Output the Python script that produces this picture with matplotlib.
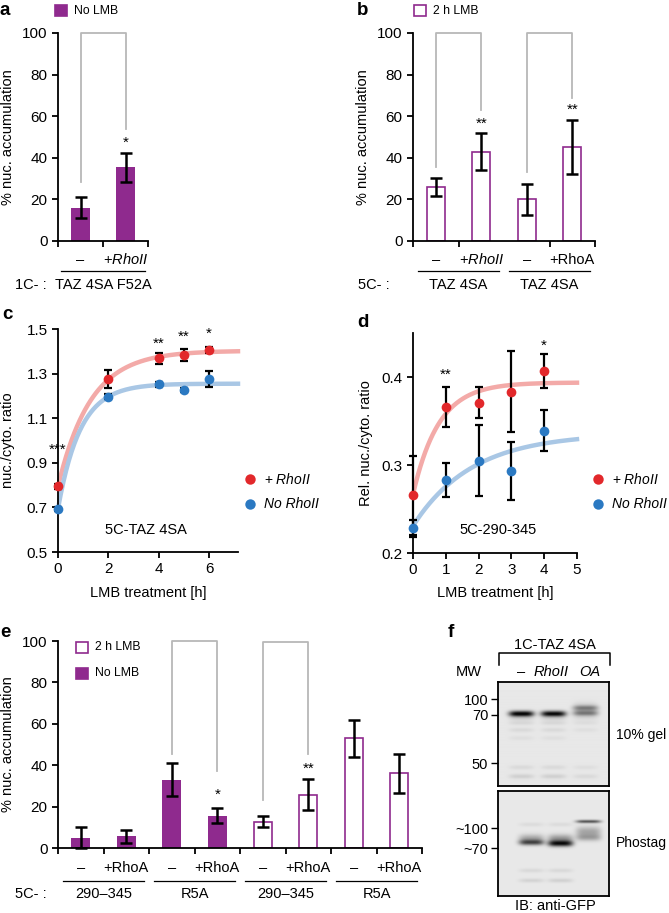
import numpy as np
import matplotlib
matplotlib.use("Agg")
import matplotlib.pyplot as plt
from matplotlib.patches import Rectangle
from matplotlib.lines import Line2D
from matplotlib.transforms import blended_transform_factory

plt.rcParams['font.family'] = ['Liberation Sans', 'DejaVu Sans']
plt.rcParams['mathtext.fontset'] = 'custom'
plt.rcParams['mathtext.rm'] = 'Liberation Sans'
plt.rcParams['mathtext.it'] = 'Liberation Sans:italic'
plt.rcParams['font.size'] = 10.5

W, H = 669, 913
PURPLE = '#8f2a8e'
RED = '#e2282b'
BLUE = '#2b79c2'
RED_FIT = '#f3aaa8'
BLUE_FIT = '#a9c7e5'
GREY = '#b8b8b8'
RHOII = '+$\\mathit{RhoII}$'

# ===== DATA =====
# a
a_vals = [16, 35.5]
a_err = [5, 7]
a_labels = ['–', RHOII]
# b
b_vals = [26, 43, 20, 45]
b_err = [4.5, 9, 7.5, 13]
b_labels = ['–', RHOII, '–', '+RhoA']
b_groups = ['TAZ 4SA', 'TAZ 4SA']
# c
c_t = [0, 2, 4, 5, 6]
c_red = [0.794, 1.276, 1.369, 1.384, 1.406]
c_red_err = [0.01, 0.04, 0.025, 0.027, 0.012]
c_blue = [0.694, 1.197, 1.252, 1.227, 1.276]
c_blue_err = [0.01, 0.01, 0.01, 0.01, 0.037]
c_stars = ['***', '', '**', '**', '*']
# d
d_t = [0, 1, 2, 3, 4]
d_red = [0.2655, 0.366, 0.371, 0.383, 0.407]
d_red_err = [0.045, 0.023, 0.018, 0.046, 0.019]
d_blue = [0.228, 0.283, 0.305, 0.293, 0.339]
d_blue_err = [0.010, 0.019, 0.04, 0.033, 0.023]
d_stars = ['', '**', '', '', '*']
# e
e_vals = [5, 5.6, 32.9, 15.7, 12.8, 25.7, 53, 36]
e_err = [5.2, 3, 8, 3.5, 2.5, 7.5, 9, 9.5]
e_cond = ['No LMB'] * 4 + ['2 h LMB'] * 4
e_labels = ['–', '+RhoA'] * 4
e_groups = ['290–345', 'R5A', '290–345', 'R5A']
# f : bands (lane, row, darkness, sigma)
f_lanes = ['–', 'RhoII', 'OA']
f_top_bands = [
    (0, 32, 0.95, 2.0), (1, 32, 0.92, 2.0),
    (2, 29, 0.25, 4.5), (2, 26, 0.25, 1.6), (2, 31.5, 0.25, 1.6),
    (0, 37, 0.06, 1.5), (1, 37, 0.06, 1.5),
    (0, 41, 0.07, 1.5), (1, 41, 0.07, 1.5), (2, 41, 0.04, 1.5),
    (0, 48, 0.06, 1.5), (1, 48, 0.06, 1.5), (2, 48, 0.04, 1.5),
    (0, 56, 0.04, 1.5), (1, 56, 0.04, 1.5),
    (0, 85, 0.06, 1.5), (1, 85, 0.06, 1.5), (2, 85, 0.04, 1.5),
    (0, 94, 0.10, 1.6), (1, 94, 0.10, 1.6), (2, 94, 0.06, 1.6),
]
f_bot_bands = [
    (0, 47, 0.25, 3.0), (0, 51, 0.55, 2.0),
    (1, 47, 0.30, 3.0), (1, 52, 0.80, 2.2),
    (2, 30, 0.55, 1.2), (2, 40, 0.25, 3.5), (2, 46, 0.25, 2.5),
    (0, 33, 0.05, 1.5), (1, 33, 0.05, 1.5),
    (0, 79, 0.06, 1.5), (1, 79, 0.06, 1.5),
    (0, 89, 0.08, 1.5), (1, 89, 0.09, 1.5),
]
f_top_mw = ['100', '70', '50']
f_top_mw_rows = [17, 32.5, 81]
f_bot_mw = ['~100', '~70']
f_bot_mw_rows = [37, 57]


def fx(x):
    return x / W


def fy(y):
    return 1 - y / H


fig = plt.figure(figsize=(W / 100, H / 100), dpi=100)


def add_axes(l, t, r, b):
    return fig.add_axes([fx(l), fy(b), (r - l) / W, (b - t) / H])


def style(ax):
    for s in ['top', 'right']:
        ax.spines[s].set_visible(False)
    for s in ['left', 'bottom']:
        ax.spines[s].set_linewidth(1.3)
    ax.tick_params(direction='out', length=4.5, width=1.3, pad=3, labelsize=11)


def errbars(ax, x, y, e, cap=4, lw=1.8, z=3):
    cont = ax.errorbar(x, y, yerr=e, fmt='none', ecolor='k', elinewidth=lw,
                       capsize=cap, capthick=lw, zorder=z)
    for art in list(cont.lines[1]) + list(cont.lines[2]):
        art.set_clip_on(False)


def bracket(ax, x1, x2, y1, y2, top):
    ax.plot([x1, x1, x2, x2], [y1, top, top, y2], color=GREY, lw=1.3,
            clip_on=False, zorder=1)


def cat_labels(ax, xs, labels, ypx):
    tr = blended_transform_factory(ax.transData, fig.transFigure)
    for x, lab in zip(xs, labels):
        ax.text(x, fy(ypx), lab, transform=tr, ha='center', va='center', fontsize=10.5)


def group_labels(ax, centers, labels, ypx_line, ypx_text, half=0.9):
    tr = blended_transform_factory(ax.transData, fig.transFigure)
    for c, lab in zip(centers, labels):
        ax.plot([c - half, c + half], [fy(ypx_line)] * 2, transform=tr, color='k',
                lw=0.9, clip_on=False)
        ax.text(c, fy(ypx_text), lab, transform=tr, ha='center', va='center', fontsize=10.5)


def legend_square(xpx, ypx, filled, label):
    fig.add_artist(Rectangle((fx(xpx), fy(ypx + 5.5)), 12 / W, 11 / H,
                             transform=fig.transFigure,
                             facecolor=PURPLE if filled else 'white',
                             edgecolor=PURPLE, lw=1.2))
    fig.text(fx(xpx + 19), fy(ypx), label, ha='left', va='center', fontsize=8.8)


def fit_exp(t, y):
    t = np.asarray(t, float)
    y = np.asarray(y, float)
    best = None
    for k in np.linspace(0.05, 5, 1000):
        A = np.column_stack([np.ones_like(t), np.exp(-k * t)])
        coef = np.linalg.lstsq(A, y, rcond=None)[0]
        sse = np.sum((A @ coef - y) ** 2)
        if best is None or sse < best[0]:
            best = (sse, k, coef)
    _, k, (p, s) = best
    return lambda tt: p + s * np.exp(-k * tt)


# ===== a =====
ax = add_axes(58, 33, 148, 241)
style(ax)
xa = np.arange(len(a_vals)) + 0.5
ax.bar(xa, a_vals, width=0.44, color=PURPLE, zorder=2)
errbars(ax, xa, a_vals, a_err)
ax.set_xlim(0, 2)
ax.set_ylim(0, 100)
ax.set_xticks([0, 1, 2])
ax.set_xticklabels([])
ax.set_yticks(range(0, 101, 20))
bracket(ax, xa[0], xa[1], 28.6, 54, 100)
ax.text(xa[1], 47, '*', ha='center', va='center', fontsize=11)
cat_labels(ax, xa, a_labels, 260)
group_labels(ax, [1.0], ['TAZ 4SA F52A'], 271, 285, half=0.93)
fig.text(fx(15), fy(285), '1C- :', ha='left', va='center', fontsize=10.5)
fig.text(fx(8), fy(137), '% nuc. accumulation', rotation=90, ha='center', va='center')
legend_square(55, 11, True, 'No LMB')
fig.text(fx(0), fy(15), 'a', fontweight='bold', fontsize=13.5, va='baseline')

# ===== b =====
ax = add_axes(413, 33, 595, 241)
style(ax)
xb = np.arange(len(b_vals)) + 0.5
ax.bar(xb, b_vals, width=0.4, facecolor='white', edgecolor=PURPLE, lw=1.2, zorder=2)
errbars(ax, xb, b_vals, b_err)
ax.set_xlim(0, 4)
ax.set_ylim(0, 100)
ax.set_xticks([0, 1, 3, 4])
ax.set_xticklabels([])
ax.set_yticks(range(0, 101, 20))
bracket(ax, xb[0], xb[1], 35.8, 63, 100)
bracket(ax, xb[2], xb[3], 33.4, 68.7, 100)
ax.text(xb[1], 56.5, '**', ha='center', va='center', fontsize=11)
ax.text(xb[3], 63, '**', ha='center', va='center', fontsize=11)
cat_labels(ax, xb, b_labels, 260)
group_labels(ax, [1.0, 3.0], b_groups, 271, 285)
fig.text(fx(358), fy(285), '5C- :', ha='left', va='center', fontsize=10.5)
fig.text(fx(363), fy(137), '% nuc. accumulation', rotation=90, ha='center', va='center')
legend_square(414, 11, False, '2 h LMB')
fig.text(fx(357), fy(15), 'b', fontweight='bold', fontsize=13.5, va='baseline')


# ===== c / d =====
def time_panel(box, t, red, red_err, blue, blue_err, stars, star_y, xmax, xticks, ylim,
               yticks, ylabel, ylab_x, inset, inset_x, leg_x, letter, letter_xy):
    ax = add_axes(*box)
    style(ax)
    tt = np.linspace(0, xmax, 200)
    ax.plot(tt, fit_exp(t, red)(tt), color=RED_FIT, lw=3.2, zorder=1, clip_on=False)
    ax.plot(tt, fit_exp(t, blue)(tt), color=BLUE_FIT, lw=3.2, zorder=1, clip_on=False)
    errbars(ax, t, red, red_err, cap=3.2, lw=1.6, z=3)
    errbars(ax, t, blue, blue_err, cap=3.2, lw=1.6, z=3)
    ax.plot(t, red, 'o', color=RED, ms=7, mec='none', zorder=4, clip_on=False)
    ax.plot(t, blue, 'o', color=BLUE, ms=7, mec='none', zorder=4, clip_on=False)
    for ti, s, sy in zip(t, stars, star_y):
        if s:
            ax.text(ti, sy, s, ha='center', va='bottom', fontsize=11)
    ax.set_xlim(0, xmax)
    ax.set_ylim(*ylim)
    ax.set_xticks(xticks)
    ax.set_yticks(yticks)
    l, t0, r, b = box
    fig.text(fx((l + r) / 2), fy(593), 'LMB treatment [h]', ha='center', va='center')
    fig.text(fx(ylab_x), fy((t0 + b) / 2), ylabel, rotation=90, ha='center', va='center')
    fig.text(fx(inset_x), fy(530), inset, ha='center', va='center')
    fig.add_artist(Line2D([fx(leg_x)], [fy(479)], marker='o', color=RED, ms=7.5, mec='none',
                          transform=fig.transFigure))
    fig.add_artist(Line2D([fx(leg_x)], [fy(504)], marker='o', color=BLUE, ms=7.5, mec='none',
                          transform=fig.transFigure))
    fig.text(fx(leg_x + 14), fy(479), '+ $\\mathit{RhoII}$', ha='left', va='center', fontsize=10)
    fig.text(fx(leg_x + 14), fy(504), 'No RhoII', ha='left', va='center', fontsize=10,
             style='italic')
    fig.text(fx(letter_xy[0]), fy(letter_xy[1]), letter, fontweight='bold', fontsize=13.5,
             va='baseline')
    return ax


# star heights (text bottoms), just above the red points
c_star_y = [0.926, None, 1.403, 1.433, 1.448]
d_star_y = [None, 0.394, None, None, 0.428]

axc = time_panel((58, 329, 238, 552), c_t, c_red, c_red_err, c_blue, c_blue_err, c_stars,
                 c_star_y, 7.15, [0, 2, 4, 6], (0.5, 1.5), [0.5, 0.7, 0.9, 1.1, 1.3, 1.5],
                 'nuc./cyto. ratio', 8, '5C-TAZ 4SA', 146, 250, 'c', (2, 319))
axc.set_yticklabels(['0.5', '0.7', '0.9', '1.1', '1.3', '1.5'])
axd = time_panel((413, 333, 577, 553), d_t, d_red, d_red_err, d_blue, d_blue_err, d_stars,
                 d_star_y, 5, [0, 1, 2, 3, 4, 5], (0.2, 0.45), [0.2, 0.3, 0.4],
                 'Rel. nuc./cyto. ratio', 366, '5C-290-345', 498, 598, 'd', (357, 327))

# ===== e =====
ax = add_axes(58, 641, 422, 848)
style(ax)
xe = np.arange(len(e_vals)) + 0.5
for x, v, cond in zip(xe, e_vals, e_cond):
    if cond == 'No LMB':
        ax.bar(x, v, width=0.42, color=PURPLE, zorder=2)
    else:
        ax.bar(x, v, width=0.4, facecolor='white', edgecolor=PURPLE, lw=1.2, zorder=2)
errbars(ax, xe, e_vals, e_err)
ax.set_xlim(0, 8)
ax.set_ylim(0, 100)
ax.set_xticks(range(9))
ax.set_xticklabels([])
ax.set_yticks(range(0, 101, 20))
bracket(ax, xe[2], xe[3], 45.4, 37.4, 100)
bracket(ax, xe[4], xe[5], 23.3, 45.4, 99.5)
ax.text(xe[3], 25.5, '*', ha='center', va='center', fontsize=11)
ax.text(xe[5], 38.5, '**', ha='center', va='center', fontsize=11)
cat_labels(ax, xe, e_labels, 868)
group_labels(ax, [1, 3, 5, 7], e_groups, 881, 894, half=0.9)
fig.text(fx(15), fy(894), '5C- :', ha='left', va='center', fontsize=10.5)
fig.text(fx(8), fy(744), '% nuc. accumulation', rotation=90, ha='center', va='center')
legend_square(76, 647, False, '2 h LMB')
legend_square(76, 673, True, 'No LMB')
fig.text(fx(0), fy(637), 'e', fontweight='bold', fontsize=13.5, va='baseline')


# ===== f =====
def blot(box, bands, lane_x, mw, mw_rows):
    l, t, r, b = box
    w, h = r - l, b - t
    ax = add_axes(l, t, r, b)
    cols = np.arange(w)[None, :]
    rows = np.arange(h)[:, None]
    img = np.full((h, w), 0.09)
    for lane, row, dark, sig in bands:
        img += dark * np.exp(-((cols - lane_x[lane]) / 12.5) ** 4) * \
            np.exp(-0.5 * ((rows - row) / sig) ** 2)
    ax.imshow(np.clip(img, 0, 1), cmap='gray_r', vmin=0, vmax=1, aspect='auto',
              extent=(0, w, h, 0), interpolation='bicubic')
    for s in ax.spines.values():
        s.set_linewidth(1.3)
    ax.set_xticks([])
    ax.set_yticks(mw_rows)
    ax.set_yticklabels(mw)
    ax.tick_params(axis='y', direction='out', length=5, width=1, pad=2, labelsize=10.5)
    return ax


blot((498, 682, 609, 786), f_top_bands, [23, 55, 87], f_top_mw, f_top_mw_rows)
blot((498, 791, 609, 896), f_bot_bands, [33, 62, 90], f_bot_mw, f_bot_mw_rows)
fig.text(fx(448), fy(637), 'f', fontweight='bold', fontsize=13.5, va='baseline')
fig.text(fx(555), fy(645), '1C-TAZ 4SA', ha='center', va='center')
fig.add_artist(Line2D([fx(499), fx(499), fx(610), fx(610)],
                      [fy(665), fy(653), fy(653), fy(665)], color='k', lw=1.1,
                      transform=fig.transFigure))
fig.text(fx(456), fy(672), 'MW', ha='left', va='center')
for xpx, lab in zip([521, 551, 590], f_lanes):
    fig.text(fx(xpx), fy(672), lab, ha='center', va='center',
             style='normal' if lab == '–' else 'italic')
fig.text(fx(616), fy(735), '10% gel', ha='left', va='center', fontsize=10)
fig.text(fx(616), fy(843), 'Phostag', ha='left', va='center', fontsize=10)
fig.text(fx(555), fy(906), 'IB: anti-GFP', ha='center', va='center')

fig.savefig('out.png', dpi=100)
